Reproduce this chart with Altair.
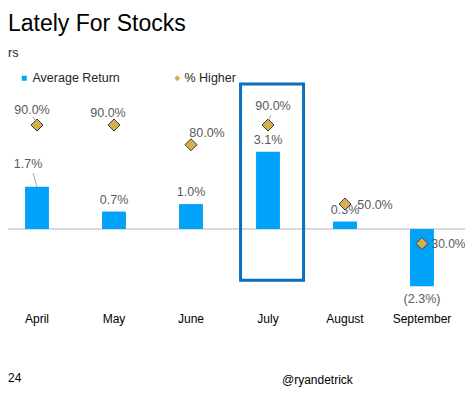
import altair as alt
import pandas as pd

# ---------------- data ----------------
months = ["April", "May", "June", "July", "August", "September"]
avg_return = [1.7, 0.7, 1.0, 3.1, 0.3, -2.3]
pct_higher = [90.0, 90.0, 80.0, 90.0, 50.0, 30.0]
return_labels = ["1.7%", "0.7%", "1.0%", "3.1%", "0.3%", "(2.3%)"]
pct_labels = ["90.0%", "90.0%", "80.0%", "90.0%", "50.0%", "30.0%"]
series_names = ["Average Return", "% Higher"]
highlight_month = "July"
highlight_span = [5.82, -2.06]  # in return units (top, bottom)

# leader lines: month -> (start value, end value) in each series' units
ret_leaders = {"April": (1.7, 2.25)}
pct_leaders = {"April": (91.5, 94.0), "July": (92.0, 95.0)}

title_text = "Lately For Stocks"
subtitle_text = "rs"
source_text = "24"
handle_text = "@ryandetrick"

# ---------------- styles ----------------
FONT = "Liberation Sans, Arial, sans-serif"
BLUE = "#00A2FA"
GOLD = "#D6B04C"
OUTLINE = "#3C3C4C"
BOX = "#0A6FBF"
LABEL = "#595959"
LEADER = "#A6A6A6"
ZERO = "#D9D9D9"

# label nudges (dx, dy, font size) in pixels
ret_nudge = {"April": (-9, -23), "September": (0, 13)}
ret_default = (0, -12)
pct_nudge = {"April": (-5, -15, 12.5), "May": (-6, -12, 12.5), "June": (16, -12, 12.5),
             "July": (5, -19, 12.5), "August": (30, 1, 12.5), "September": (26.5, 0, 12)}
# leader line x offsets (start, end) in pixels
ret_leader_dx = {"April": (0, -4)}
pct_leader_dx = {"April": (-1, -4), "July": (0, 3)}

df = pd.DataFrame({
    "month": months,
    "ret": avg_return,
    "pct": pct_higher,
    "ret_label": return_labels,
    "pct_label": pct_labels,
})

ret_scale = alt.Scale(domain=[-4, 6], range=[320.6, 71.6])
pct_scale = alt.Scale(domain=[0, 100], range=[294.75, 97.25])

x_scale = alt.Scale(domain=months, range=[-9.5, 452.5], paddingInner=0.69, paddingOuter=0.345)
x_axis = alt.Axis(title=None, domain=False, ticks=False, tickSize=0, labelPadding=5,
                  labelFontSize=12, labelFont=FONT, labelColor="#000000", labelAngle=0, grid=False)
x_enc = alt.X("month:N", scale=x_scale, axis=x_axis)

base = alt.Chart(df)

zero_line = base.mark_rule(color=ZERO, strokeWidth=1).encode(
    y=alt.YDatum(0, scale=ret_scale, axis=None),
    x=alt.value(0), x2=alt.value(457),
)

bars = base.transform_calculate(series="'Average Return'").mark_bar(opacity=1).encode(
    x=x_enc,
    y=alt.Y("ret:Q", scale=ret_scale, axis=None),
    color=alt.Color("series:N", scale=alt.Scale(domain=[series_names[0]], range=[BLUE]),
                    legend=alt.Legend(orient="none", legendX=10, legendY=64, title=None,
                                      symbolType="square", symbolSize=25, labelFontSize=12.5,
                                      labelFont=FONT, labelColor="#262626", labelOffset=2,
                                      symbolStrokeWidth=0)),
)

box = base.transform_filter(alt.datum.month == highlight_month).transform_calculate(
    top=str(highlight_span[0]), bot=str(highlight_span[1])
).mark_bar(size=63, fillOpacity=0, stroke=BOX, strokeWidth=3).encode(
    x=x_enc,
    xOffset=alt.value(16),
    y=alt.Y("top:Q", scale=ret_scale, axis=None),
    y2="bot:Q",
)


def leader_layers(leaders, offsets, scale):
    layers = []
    for m, (v0, v1) in leaders.items():
        o0, o1 = offsets[m]
        layers.append(
            base.transform_filter(alt.datum.month == m).transform_calculate(
                a=str(v0), b=str(v1)
            ).mark_rule(color=LEADER, strokeWidth=1, xOffset=o0, x2Offset=o1).encode(
                x=x_enc, x2=alt.X2("month:N"),
                y=alt.Y("a:Q", scale=scale, axis=None), y2="b:Q",
            )
        )
    return layers


ret_leader_layers = leader_layers(ret_leaders, ret_leader_dx, ret_scale)
pct_leader_layers = leader_layers(pct_leaders, pct_leader_dx, pct_scale)

ret_text_layers = []
for m in months:
    dx, dy = ret_nudge.get(m, ret_default)
    ret_text_layers.append(
        base.transform_filter(alt.datum.month == m).mark_text(
            dx=dx, dy=dy, fontSize=12.5, font=FONT, color=LABEL, baseline="middle", align="center"
        ).encode(x=x_enc, y=alt.Y("ret:Q", scale=ret_scale, axis=None), text="ret_label:N")
    )

points = base.transform_calculate(series2="'% Higher'").mark_point(
    shape="diamond", filled=True, fill=GOLD, stroke=OUTLINE, strokeWidth=1, size=144, opacity=1
).encode(
    x=x_enc,
    y=alt.Y("pct:Q", scale=pct_scale, axis=None),
    shape=alt.Shape("series2:N", scale=alt.Scale(domain=[series_names[1]], range=["diamond"]),
                    legend=alt.Legend(orient="none", legendX=163, legendY=64, title=None,
                                      symbolSize=36, symbolFillColor=GOLD, symbolStrokeColor=OUTLINE,
                                      symbolStrokeWidth=1, labelFontSize=12.5, labelFont=FONT,
                                      labelColor="#262626", labelOffset=1)),
)

pct_text_layers = []
for m in months:
    dx, dy, fs = pct_nudge[m]
    pct_text_layers.append(
        base.transform_filter(alt.datum.month == m).mark_text(
            dx=dx, dy=dy, fontSize=fs, font=FONT, color=LABEL, baseline="middle", align="center"
        ).encode(x=x_enc, y=alt.Y("pct:Q", scale=pct_scale, axis=None), text="pct_label:N")
    )

one = alt.Chart(alt.Data(values=[{}]))
title = one.mark_text(text=title_text, align="left", baseline="alphabetic", fontSize=23,
                      font=FONT, color="#000000").encode(x=alt.value(0), y=alt.value(22.7))
subtitle = one.mark_text(text=subtitle_text, align="left", baseline="middle", fontSize=12.5,
                         font=FONT, color="#262626").encode(x=alt.value(0), y=alt.value(45))
source = one.mark_text(text=source_text, align="left", baseline="middle", fontSize=12,
                       font=FONT, color="#000000").encode(x=alt.value(0), y=alt.value(369.5))
handle = one.mark_text(text=handle_text, align="left", baseline="middle", fontSize=12,
                       font=FONT, color="#000000").encode(x=alt.value(274), y=alt.value(371.5))

chart = alt.layer(
    zero_line, bars, *ret_leader_layers, *ret_text_layers, points, *pct_leader_layers,
    *pct_text_layers, box, title, subtitle, source, handle,
).resolve_scale(y="independent").properties(
    width=457, height=300,
    autosize=alt.AutoSizeParams(type="none"),
    padding={"left": 0, "top": 0, "right": 0, "bottom": 79},
).configure(background="white").configure_view(strokeWidth=0, stroke=None)

chart.save("out.html", embed_options={"renderer": "svg", "actions": False})
